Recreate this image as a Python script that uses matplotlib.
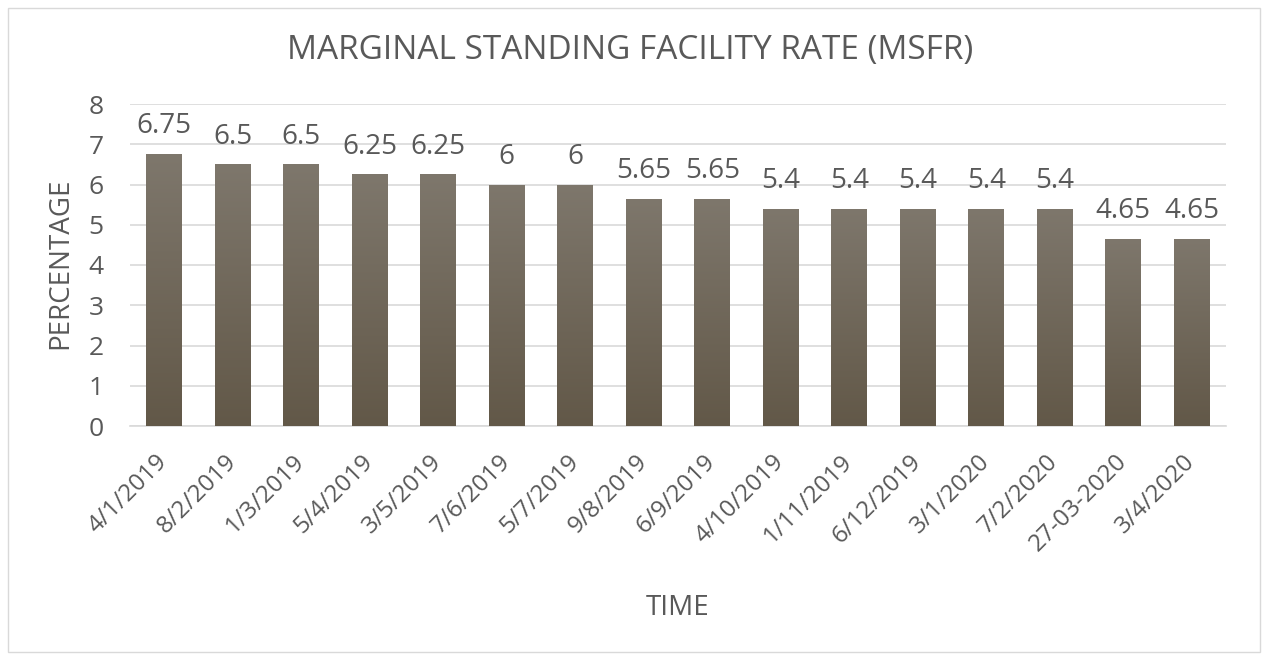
import matplotlib
matplotlib.use("Agg")
import matplotlib.pyplot as plt
import numpy as np
from matplotlib.patches import Rectangle
from matplotlib.colors import LinearSegmentedColormap

dates = ["4/1/2019", "8/2/2019", "1/3/2019", "5/4/2019", "3/5/2019", "7/6/2019",
         "5/7/2019", "9/8/2019", "6/9/2019", "4/10/2019", "1/11/2019", "6/12/2019",
         "3/1/2020", "7/2/2020", "27-03-2020", "3/4/2020"]
rates = [6.75, 6.5, 6.5, 6.25, 6.25, 6, 6, 5.65, 5.65, 5.4, 5.4, 5.4, 5.4, 5.4, 4.65, 4.65]
labels = ["6.75", "6.5", "6.5", "6.25", "6.25", "6", "6", "5.65", "5.65", "5.4", "5.4",
          "5.4", "5.4", "5.4", "4.65", "4.65"]

plt.rcParams['font.family'] = ['Open Sans', 'DejaVu Sans']
txt = '#595959'

fig = plt.figure(figsize=(12.68, 6.6), dpi=100)
fig.patches.append(Rectangle((8/1268, 8/660), 1252/1268, 644/660, transform=fig.transFigure,
                             fill=False, edgecolor='#d9d9d9', linewidth=1))
ax = fig.add_axes([130/1268, 234/660, 1096/1268, 322/660])

x = np.arange(len(dates))
bars = ax.bar(x, rates, width=0.52, color='none', zorder=3)
grad = np.linspace(0, 1, 256).reshape(-1, 1)
cmap = LinearSegmentedColormap.from_list('g', ['#625848', '#7e776c'])
for b in bars:
    bx = b.get_x()
    w, h = b.get_width(), b.get_height()
    im = ax.imshow(grad, extent=[bx, bx + w, 0, h], origin='lower', cmap=cmap,
                   aspect='auto', zorder=3)
    im.set_clip_path(b)

ax.set_xlim(-0.5, len(dates) - 0.5)
ax.set_ylim(0, 8)
ax.set_yticks(range(0, 9))
ax.yaxis.grid(True, color='#d9d9d9', linewidth=1.2, zorder=0)
ax.set_axisbelow(True)
for s in ['top', 'right', 'left']:
    ax.spines[s].set_visible(False)
ax.spines['bottom'].set_color('#d9d9d9')
ax.spines['bottom'].set_linewidth(1.2)
ax.tick_params(axis='both', length=0, colors=txt)
ax.tick_params(axis='y', pad=19, labelsize=19)
ax.set_xticks(x)
ax.set_xticklabels(dates, rotation=45, ha='right', va='center', rotation_mode='anchor',
                   fontsize=17.5)
ax.tick_params(axis='x', pad=23)

for xi, r, l in zip(x, rates, labels):
    ax.annotate(l, (xi, r), xytext=(0, 15), textcoords='offset points',
                ha='center', va='baseline', fontsize=20, color=txt)

fig.text(60/1268, 1 - 263/660, 'PERCENTAGE', rotation=90, ha='center', va='center',
         fontsize=20, color=txt)
fig.text(678/1268, 1 - 608/660, 'TIME', ha='center', va='center', fontsize=20, color=txt)
fig.text(630/1268, 1 - 50/660, 'MARGINAL STANDING FACILITY RATE (MSFR)', ha='center',
         va='center', fontsize=24, color=txt)

fig.savefig('out.png', dpi=100)
